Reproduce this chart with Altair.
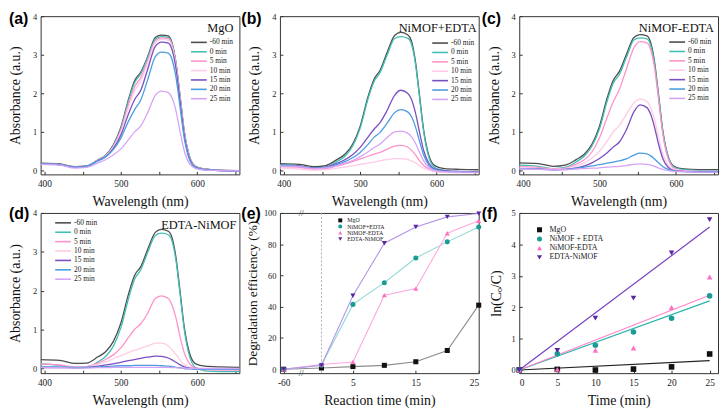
import altair as alt
import pandas as pd

# ---------------- data ----------------
wavelength = [395, 420, 440, 455, 470, 480, 490, 500, 510, 518, 526, 535, 545, 553,
              562, 567, 572, 577, 583, 590, 598, 610, 630, 655]
time_labels = ["-60 min", "0 min", "5 min", "10 min", "15 min", "20 min", "25 min"]
time_colors = ["#4d4d4d", "#3fbfb6", "#ff92c9", "#ffcbe6", "#7a4fc1", "#4b9de0", "#d6a4f7"]

# (a) MgO
a_m60 = [0.19,0.17,0.10,0.12,0.28,0.40,0.66,1.12,1.85,2.33,2.55,2.95,3.45,3.51,3.49,3.30,2.80,2.00,1.00,0.35,0.10,0.04,0.01,0.00]
a_0   = [0.17,0.15,0.09,0.11,0.27,0.39,0.64,1.09,1.81,2.28,2.51,2.92,3.40,3.47,3.45,3.27,2.78,1.98,0.98,0.34,0.09,0.03,0.00,-0.01]
a_5   = [0.17,0.15,0.09,0.11,0.27,0.38,0.62,1.05,1.72,2.17,2.41,2.85,3.36,3.44,3.42,3.24,2.75,1.95,0.96,0.33,0.09,0.03,0.00,-0.01]
a_10  = [0.17,0.15,0.09,0.11,0.26,0.37,0.60,1.00,1.64,2.07,2.32,2.78,3.31,3.40,3.38,3.20,2.72,1.92,0.94,0.32,0.08,0.03,0.00,-0.01]
a_15  = [0.17,0.15,0.09,0.11,0.26,0.36,0.57,0.92,1.47,1.84,2.08,2.62,3.22,3.33,3.30,3.12,2.65,1.86,0.90,0.30,0.08,0.02,0.00,-0.01]
a_20  = [0.17,0.15,0.09,0.11,0.25,0.35,0.54,0.84,1.28,1.58,1.83,2.35,2.95,3.07,3.04,2.87,2.42,1.70,0.82,0.27,0.07,0.02,0.00,-0.01]
a_25  = [0.16,0.14,0.06,0.08,0.20,0.28,0.40,0.56,0.80,1.00,1.16,1.50,1.95,2.06,2.02,1.88,1.55,1.05,0.50,0.17,0.05,0.01,0.00,-0.01]

# (b) NiMOF+EDTA
b_m60 = [0.18,0.16,0.10,0.13,0.29,0.42,0.68,1.15,1.90,2.36,2.60,3.05,3.50,3.58,3.52,3.36,2.86,2.05,1.05,0.38,0.12,0.05,0.03,0.02]
b_0   = [0.15,0.12,0.05,0.08,0.24,0.37,0.63,1.10,1.84,2.30,2.54,2.98,3.42,3.47,3.43,3.28,2.80,2.00,1.00,0.33,0.07,0.00,-0.03,-0.04]
b_5   = [0.10,0.08,0.03,0.05,0.12,0.17,0.23,0.30,0.37,0.42,0.47,0.55,0.63,0.65,0.61,0.53,0.41,0.27,0.13,0.04,-0.02,-0.04,-0.05,-0.05]
b_10  = [0.06,0.04,0.01,0.02,0.06,0.09,0.12,0.16,0.19,0.22,0.25,0.28,0.31,0.31,0.29,0.25,0.20,0.13,0.06,0.01,-0.03,-0.05,-0.06,-0.06]
b_15  = [0.14,0.12,0.07,0.09,0.19,0.28,0.41,0.60,0.86,1.07,1.24,1.55,1.95,2.08,2.00,1.85,1.52,1.05,0.52,0.18,0.04,0.00,-0.02,-0.03]
b_20  = [0.13,0.11,0.06,0.08,0.16,0.23,0.33,0.47,0.67,0.86,0.99,1.22,1.50,1.58,1.52,1.40,1.15,0.80,0.40,0.13,0.02,-0.02,-0.03,-0.04]
b_25  = [0.12,0.10,0.05,0.07,0.13,0.19,0.26,0.36,0.48,0.59,0.69,0.85,1.00,1.02,0.97,0.88,0.72,0.50,0.25,0.08,0.00,-0.03,-0.04,-0.05]

# (c) NiMOF-EDTA
c_m60 = [0.20,0.18,0.11,0.14,0.29,0.42,0.68,1.15,1.88,2.34,2.57,3.00,3.45,3.52,3.49,3.31,2.81,2.00,1.00,0.35,0.10,0.04,0.02,0.02]
c_0   = [0.14,0.11,0.05,0.08,0.23,0.37,0.63,1.08,1.80,2.27,2.49,2.92,3.38,3.44,3.41,3.24,2.76,1.96,0.98,0.33,0.08,0.02,0.00,0.00]
c_5   = [0.10,0.08,0.04,0.06,0.17,0.28,0.48,0.85,1.38,1.78,2.10,2.62,3.18,3.34,3.31,3.13,2.66,1.88,0.92,0.30,0.06,0.00,-0.02,-0.02]
c_10  = [0.07,0.05,0.03,0.05,0.12,0.20,0.32,0.50,0.76,1.00,1.17,1.45,1.75,1.85,1.79,1.62,1.32,0.88,0.42,0.13,0.03,0.00,-0.02,-0.02]
c_15  = [0.05,0.04,0.02,0.03,0.07,0.12,0.20,0.31,0.46,0.61,0.74,1.05,1.52,1.70,1.63,1.45,1.12,0.70,0.30,0.08,0.00,-0.02,-0.03,-0.03]
c_20  = [0.05,0.04,0.02,0.03,0.06,0.09,0.12,0.15,0.19,0.22,0.25,0.30,0.40,0.45,0.43,0.38,0.30,0.20,0.10,0.03,-0.01,-0.03,-0.04,-0.04]
c_25  = [0.04,0.03,0.02,0.02,0.04,0.05,0.06,0.07,0.09,0.10,0.11,0.13,0.16,0.17,0.16,0.14,0.11,0.07,0.03,0.00,-0.02,-0.03,-0.04,-0.04]

# (d) EDTA-NiMOF
d_m60 = [0.23,0.21,0.13,0.14,0.30,0.43,0.69,1.17,1.92,2.40,2.62,3.06,3.50,3.58,3.53,3.36,2.86,2.05,1.05,0.38,0.12,0.06,0.04,0.03]
d_0   = [0.12,0.08,0.01,0.03,0.17,0.31,0.57,1.05,1.80,2.30,2.54,2.98,3.42,3.48,3.44,3.27,2.78,1.98,0.98,0.30,0.02,-0.06,-0.08,-0.08]
d_5   = [0.12,0.09,0.04,0.05,0.14,0.23,0.35,0.53,0.80,1.01,1.15,1.42,1.80,1.87,1.80,1.62,1.30,0.85,0.40,0.12,0.01,-0.03,-0.04,-0.04]
d_10  = [0.05,0.04,0.02,0.04,0.11,0.17,0.25,0.33,0.41,0.47,0.52,0.58,0.65,0.65,0.58,0.48,0.36,0.22,0.10,0.03,0.00,-0.01,-0.02,-0.02]
d_15  = [0.03,0.02,0.02,0.03,0.06,0.09,0.12,0.16,0.20,0.23,0.26,0.29,0.32,0.31,0.27,0.22,0.16,0.10,0.04,0.01,0.00,-0.01,-0.02,-0.02]
d_20  = [0.04,0.04,0.03,0.03,0.04,0.05,0.06,0.07,0.07,0.08,0.08,0.08,0.08,0.07,0.06,0.05,0.03,0.02,0.00,-0.01,-0.02,-0.02,-0.02,-0.02]
d_25  = [0.02,0.02,0.01,0.01,0.02,0.02,0.03,0.03,0.03,0.03,0.03,0.03,0.03,0.03,0.03,0.02,0.02,0.01,0.01,0.00,0.00,0.00,0.00,0.00]

# (e) degradation efficiency
e_time = [-60, 0, 5, 10, 15, 20, 25]
e_labels = ["MgO", "NiMOF+EDTA", "NiMOF-EDTA", "EDTA-NiMOF"]
e_mgo = [0, 0.8, 1.7, 2.5, 4.8, 12, 41]
e_nimof_plus = [0, 2.5, 41.5, 55.4, 71.2, 81.5, 91]
e_nimof_minus = [0, 3, 4.6, 47.4, 51.6, 87, 95]
e_edta_nimof = [0, 2.5, 47, 80.6, 91, 97.5, 99.6]

# (f) kinetics
f_time = [0, 5, 10, 15, 20, 25]
f_labels = ["MgO", "NiMOF + EDTA", "NiMOF-EDTA", "EDTA-NiMOF"]
f_mgo = [0, 0.02, 0.0, 0.03, 0.10, 0.51]
f_nimof_plus = [0, 0.52, 0.79, 1.21, 1.65, 2.36]
f_nimof_minus = [0, 0.02, 0.63, 0.70, 1.99, 2.96]
f_edta_nimof = [0, 0.62, 1.65, 2.29, 3.73, 4.79]
fit_time = [0, 25]
fit_mgo = [0, 0.30]
fit_nimof_plus = [0, 2.20]
fit_nimof_minus = [0, 2.38]
fit_edta_nimof = [0, 4.55]

point_colors = ["#111111", "#1a9c94", "#ff6fc4", "#5a25a3"]
e_line_colors = ["#8c8c8c", "#8fd9d4", "#ffa8dc", "#b596e6"]
fit_colors = ["#222222", "#2bb3ab", "#ff85cc", "#7440c0"]
shapes = ["square", "circle", "triangle-up", "triangle-down"]

wl_ticks = [400, 450, 500, 550, 600, 650]

# ---------------- layout ----------------
W = 201
H1 = 160
H2 = 162
SERIF = "Liberation Serif"


def tag_layer(txt, x, y):
    return alt.Chart(pd.DataFrame({"t": [txt]})).mark_text(
        align="left", baseline="top", font="Liberation Sans", fontWeight="bold",
        fontSize=16, color="#000"
    ).encode(x=alt.value(x), y=alt.value(y), text="t:N")


def name_layer(txt, x, y):
    return alt.Chart(pd.DataFrame({"t": [txt]})).mark_text(
        align="right", baseline="middle", font=SERIF, fontSize=12.5, color="#111"
    ).encode(x=alt.value(x), y=alt.value(y), text="t:N")


def spectra(curves, tag, tag_x, tag_y, name, name_x, lx, ly, h, ydom):
    rows = []
    for lab, vals in zip(time_labels, curves):
        for w, v in zip(wavelength, vals):
            rows.append({"wl": w, "A": v, "series": lab})
    df = pd.DataFrame(rows)
    lines = alt.Chart(df).mark_line(strokeWidth=1.3, interpolate="monotone", clip=True).encode(
        x=alt.X("wl:Q", scale=alt.Scale(domain=[395, 655], nice=False, zero=False),
                axis=alt.Axis(values=wl_ticks, labelExpr="datum.value % 100 == 0 ? datum.label : ''",
                              title="Wavelength (nm)")),
        y=alt.Y("A:Q", scale=alt.Scale(domain=ydom, nice=False, zero=False),
                axis=alt.Axis(values=[0, 1, 2, 3, 4], title="Absorbance (a.u.)", titlePadding=10)),
        color=alt.Color("series:N", sort=time_labels,
                        scale=alt.Scale(domain=time_labels, range=time_colors),
                        legend=alt.Legend(title=None, orient="none", legendX=lx, legendY=ly,
                                          symbolType="M-2,0H2", symbolSize=64, symbolStrokeWidth=1.6,
                                          labelFont=SERIF, labelFontSize=7.5, labelColor="#222",
                                          labelOffset=6, rowPadding=0.5, padding=0)),
    )
    return alt.layer(lines, name_layer(name, name_x, 12), tag_layer(tag, tag_x, tag_y)).properties(width=W, height=h)


pa = spectra([a_m60, a_0, a_5, a_10, a_15, a_20, a_25], "(a)", -32, -5, "MgO", W - 6, 155, 21.5, H1, [-0.1, 4])
pb = spectra([b_m60, b_0, b_5, b_10, b_15, b_20, b_25], "(b)", -39, -5, "NiMOF+EDTA", W - 2, 157, 22.2, H1, [-0.1, 4])
pc = spectra([c_m60, c_0, c_5, c_10, c_15, c_20, c_25], "(c)", -38, -5, "NiMOF-EDTA", W - 4, 154.7, 21.2, H1, [-0.1, 4])
pd_ = spectra([d_m60, d_0, d_5, d_10, d_15, d_20, d_25], "(d)", -32, -7, "EDTA-NiMOF", W - 3, 17.7, 5, H2, [-0.12, 4])

# ----- panel e -----
e_rows = []
for lab, vals in zip(e_labels, [e_mgo, e_nimof_plus, e_nimof_minus, e_edta_nimof]):
    for t, v in zip(e_time, vals):
        e_rows.append({"t": t, "v": v, "series": lab})
e_df = pd.DataFrame(e_rows)
e_base = alt.Chart(e_df).transform_calculate(xpos="datum.t < 0 ? -6 : datum.t")
e_x = alt.X("xpos:Q", scale=alt.Scale(domain=[-6.6, 25], nice=False, zero=False),
            axis=alt.Axis(values=[-6, 0, 5, 10, 15, 20, 25],
                          labelExpr="datum.value == -6 ? '-60' : datum.label",
                          title="Reaction time (min)"))
e_y = alt.Y("v:Q", scale=alt.Scale(domain=[-2.5, 100], nice=False, zero=False),
            axis=alt.Axis(values=[0, 20, 40, 60, 80, 100], title="Degradation efficiency (%)",
                          titlePadding=4, titleFontSize=13.5))
e_line_layers = [
    e_base.transform_filter(alt.datum.series == lab).mark_line(strokeWidth=1.1, color=col).encode(x=e_x, y=e_y)
    for lab, col in zip(e_labels, e_line_colors)
]
e_leg = alt.Legend(title=None, orient="none", legendX=58, legendY=4.5, symbolSize=16,
                   labelFont=SERIF, labelFontSize=6, labelColor="#222", rowPadding=0.3,
                   padding=0, labelOffset=4)
e_pts = e_base.mark_point(filled=True, size=26, opacity=1).encode(
    x=e_x, y=e_y,
    color=alt.Color("series:N", scale=alt.Scale(domain=e_labels, range=point_colors), legend=e_leg),
    shape=alt.Shape("series:N", scale=alt.Scale(domain=e_labels, range=shapes), legend=e_leg))
e_zero = alt.Chart(pd.DataFrame({"z": [0]})).mark_rule(color="#b0b0b0", strokeDash=[2, 2], strokeWidth=1).encode(x=alt.datum(0))
e_brk_top = alt.Chart(pd.DataFrame({"t": ["//"]})).mark_text(fontSize=9, font=SERIF, color="#333").encode(
    x=alt.datum(-3.2), y=alt.value(0), text="t:N")
e_brk_bot = alt.Chart(pd.DataFrame({"t": ["//"]})).mark_text(fontSize=9, font=SERIF, color="#333").encode(
    x=alt.datum(-3.2), y=alt.value(H2), text="t:N")
pe = alt.layer(e_zero, *e_line_layers, e_pts, e_brk_top, e_brk_bot, tag_layer("(e)", -39, -7)).properties(
    width=W, height=H2)

# ----- panel f -----
f_rows = []
for lab, vals in zip(f_labels, [f_mgo, f_nimof_plus, f_nimof_minus, f_edta_nimof]):
    for t, v in zip(f_time, vals):
        f_rows.append({"t": t, "v": v, "series": lab})
f_df = pd.DataFrame(f_rows)
fit_rows = []
for lab, vals in zip(f_labels, [fit_mgo, fit_nimof_plus, fit_nimof_minus, fit_edta_nimof]):
    for t, v in zip(fit_time, vals):
        fit_rows.append({"t": t, "v": v, "series": lab})
fit_df = pd.DataFrame(fit_rows)
f_x = alt.X("t:Q", scale=alt.Scale(domain=[0, 26.1], nice=False, zero=False),
            axis=alt.Axis(values=[0, 5, 10, 15, 20, 25], title="Time (min)"))
f_y = alt.Y("v:Q", scale=alt.Scale(domain=[-0.1, 5], nice=False, zero=False),
            axis=alt.Axis(values=[0, 1, 2, 3, 4, 5], title="ln(Cₒ/C)", titlePadding=8))
f_fit_layers = [
    alt.Chart(fit_df).transform_filter(alt.datum.series == lab).mark_line(strokeWidth=1.2, color=col).encode(x=f_x, y=f_y)
    for lab, col in zip(f_labels, fit_colors)
]
f_leg = alt.Legend(title=None, orient="none", legendX=16.5, legendY=13, symbolSize=26,
                   labelFont=SERIF, labelFontSize=8, labelColor="#222", rowPadding=1.3,
                   padding=0, labelOffset=6)
f_pts = alt.Chart(f_df).mark_point(filled=True, size=32, opacity=1).encode(
    x=f_x, y=f_y,
    color=alt.Color("series:N", scale=alt.Scale(domain=f_labels, range=point_colors), legend=f_leg),
    shape=alt.Shape("series:N", scale=alt.Scale(domain=f_labels, range=shapes), legend=f_leg))
pf = alt.layer(*f_fit_layers, f_pts, tag_layer("(f)", -38, -7)).properties(width=W, height=H2)

chart = alt.concat(pa, pb, pc, pd_, pe, pf, columns=3, spacing={"row": 39, "column": 41},
                   bounds="flush", padding=0).resolve_scale(
    color="independent", shape="independent").resolve_legend(
    color="independent", shape="independent").configure_view(
    stroke="#333", strokeWidth=1).configure_axis(
    labelFont=SERIF, titleFont=SERIF, titleFontSize=14, titleFontWeight="normal",
    labelColor="#222", titleColor="#111", tickSize=3, tickColor="#333", labelPadding=4,
    offset=-3, titlePadding=7, domain=False, grid=False).configure_axisX(labelFontSize=9.5).configure_axisY(
    labelFontSize=8.5)

chart.save("out.html", embed_options={"renderer": "svg", "actions": False})
